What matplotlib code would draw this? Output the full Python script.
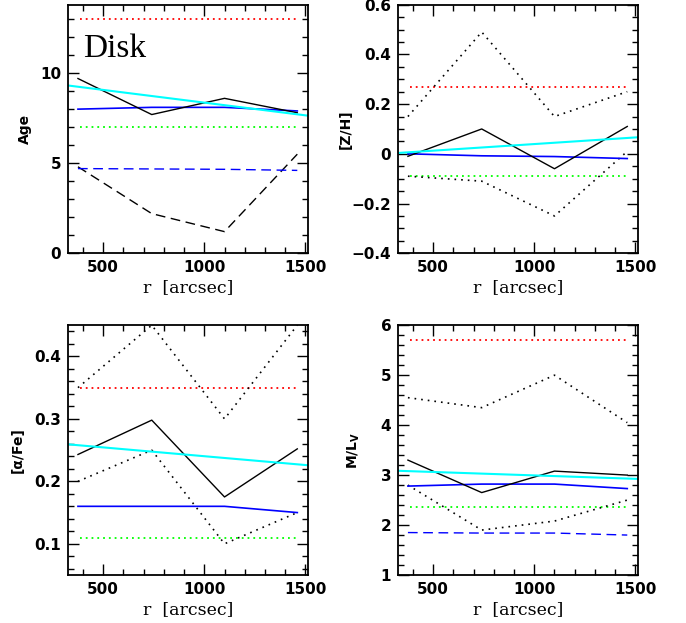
import numpy as np
import matplotlib.pyplot as plt

# radii of the four bins
r = [375, 740, 1100, 1460]
r_red = [385, 1460]
r_fit = [300, 1540]

# Age
age_solid = [9.7, 7.7, 8.6, 7.8]
age_dashed = [4.8, 2.2, 1.2, 5.5]
age_blue = [8.0, 8.1, 8.1, 7.9]
age_blue_dashed = [4.7, 4.68, 4.66, 4.6]
age_red = [13.0, 13.0]
age_green = [7.0, 7.0]
age_cyan = [9.35, 7.6]

# [Z/H]
zh_solid = [-0.01, 0.10, -0.06, 0.11]
zh_up = [0.15, 0.49, 0.15, 0.25]
zh_lo = [-0.09, -0.11, -0.25, 0.01]
zh_blue = [0.0, -0.008, -0.011, -0.019]
zh_red = [0.27, 0.27]
zh_green = [-0.09, -0.09]
zh_cyan = [0.002, 0.068]

# [alpha/Fe]
af_solid = [0.243, 0.298, 0.175, 0.252]
af_up = [0.35, 0.45, 0.30, 0.45]
af_lo = [0.20, 0.25, 0.10, 0.15]
af_blue = [0.16, 0.16, 0.16, 0.15]
af_red = [0.35, 0.35]
af_green = [0.11, 0.11]
af_cyan = [0.26, 0.225]

# M/L_V
ml_solid = [3.30, 2.65, 3.08, 3.00]
ml_up = [4.55, 4.35, 5.00, 4.05]
ml_lo = [2.80, 1.90, 2.08, 2.50]
ml_blue = [2.78, 2.82, 2.82, 2.73]
ml_blue_dashed = [1.85, 1.84, 1.84, 1.80]
ml_red = [5.71, 5.71]
ml_green = [2.37, 2.37]
ml_cyan = [3.09, 2.92]

dot = (0, (1, 3))
sans = 'DejaVu Sans'
serif = 'DejaVu Serif'

fig = plt.figure(figsize=(6.86, 6.23), dpi=100)

def make_axes(rect, ylim, major, minor, ylabel, lab_x, ticklabels=None):
    ax = fig.add_axes(rect)
    ax.set_xlim(327, 1513)
    ax.set_ylim(*ylim)
    ax.set_xticks([500, 1000, 1500])
    ax.set_xticks(np.arange(400, 1501, 100), minor=True)
    ax.set_yticks(major)
    if ticklabels is not None:
        ax.set_yticklabels(ticklabels)
    ax.set_yticks(minor, minor=True)
    ax.tick_params(which='both', direction='in', top=True, right=True, width=1.0, labelsize=11, pad=5)
    ax.tick_params(which='major', length=8)
    ax.tick_params(which='minor', length=4)
    for s in ax.spines.values():
        s.set_linewidth(1.3)
    for lab in ax.get_xticklabels() + ax.get_yticklabels():
        lab.set_family(sans)
        lab.set_fontweight('bold')
    ax.set_xlabel('r  [arcsec]', family=serif, fontsize=12.5, labelpad=3)
    ax.set_ylabel(ylabel, family=sans, fontsize=10, fontweight='bold')
    ax.yaxis.set_label_coords(lab_x, 0.5)
    return ax

def draw(ax, solid, up, lo, blue, red, green, cyan, bdash=None, kdash=None):
    ax.plot(r_red, red, color='#ff0000', ls=(0, (1, 2.2)), lw=1.3)
    ax.plot(r_red, green, color='#00ff00', ls=(0, (1, 2.2)), lw=1.3)
    if up is not None:
        ax.plot(r, up, color='black', ls=dot, lw=1.2)
        ax.plot(r, lo, color='black', ls=dot, lw=1.2)
    if kdash is not None:
        ax.plot(r, kdash, color='black', ls=(0, (7, 4)), lw=1.0)
    if bdash is not None:
        ax.plot(r, bdash, color='#0000ff', ls=(0, (7, 4)), lw=1.0)
    ax.plot(r, blue, color='#0000ff', lw=1.2)
    ax.plot(r, solid, color='black', lw=1.0)
    ax.plot(r_fit, cyan, color='#00ffff', lw=1.5, clip_on=True)

ax1 = make_axes([0.0995, 0.5935, 0.3495, 0.399], (0, 13.8), [0, 5, 10], np.arange(0, 14, 1), 'Age', -0.15)
draw(ax1, age_solid, None, None, age_blue, age_red, age_green, age_cyan, bdash=age_blue_dashed, kdash=age_dashed)
ax1.text(0.062, 0.79, 'Disk', transform=ax1.transAxes, family='Liberation Serif', fontsize=24)

ax2 = make_axes([0.5805, 0.5935, 0.3495, 0.399], (-0.4, 0.6), [-0.4, -0.2, 0, 0.2, 0.4, 0.6],
                np.arange(-0.4, 0.61, 0.05), '[Z/H]', -0.19,
                ['\u22120.4', '\u22120.2', '0', '0.2', '0.4', '0.6'])
draw(ax2, zh_solid, zh_up, zh_lo, zh_blue, zh_red, zh_green, zh_cyan)

ax3 = make_axes([0.0995, 0.077, 0.3495, 0.401], (0.05, 0.45), [0.1, 0.2, 0.3, 0.4],
                np.arange(0.06, 0.45, 0.02), '[\u03b1/Fe]', -0.18)
draw(ax3, af_solid, af_up, af_lo, af_blue, af_red, af_green, af_cyan)

ax4 = make_axes([0.5805, 0.077, 0.3495, 0.401], (1, 6), [1, 2, 3, 4, 5, 6],
                np.arange(1, 6.01, 0.2), r'M/L$_{\mathbf{V}}$', -0.15)
draw(ax4, ml_solid, ml_up, ml_lo, ml_blue, ml_red, ml_green, ml_cyan, bdash=ml_blue_dashed)

plt.savefig('out.png', dpi=100)
